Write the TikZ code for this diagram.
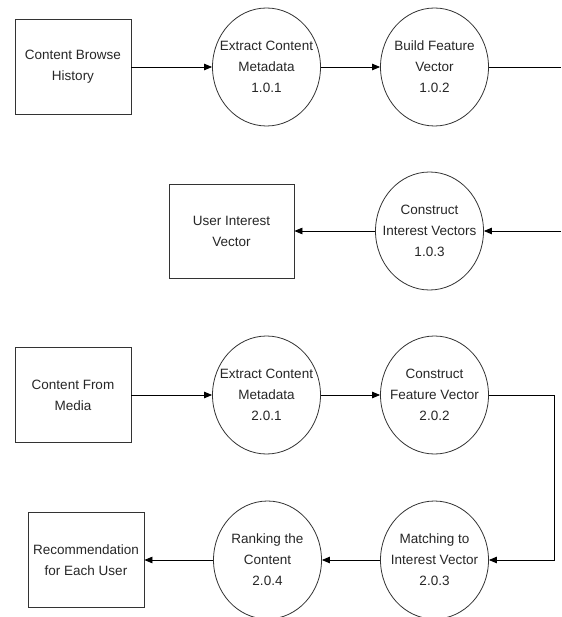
\documentclass[tikz,border=0pt]{standalone}
\usepackage{fontspec}
\setmainfont{Liberation Sans}
\usepackage{tikz}
\usetikzlibrary{arrows.meta}
\usetikzlibrary{shapes.geometric}

\begin{document}
\begin{tikzpicture}[x=1pt, y=1pt, >={Triangle[length=8pt,width=6.5pt]}, line width=0.8pt,
  every node/.style={font=\fontsize{13.5}{21}\selectfont, align=center, text=black!85},
  kreis/.style={ellipse, draw=black!80, minimum width=108pt, minimum height=118pt, inner xsep=-14pt, inner ysep=0pt},
  kasten/.style={rectangle, draw=black!80, minimum width=116pt, minimum height=95pt}]
\useasboundingbox (0,0) rectangle (561,-617);
% first part: browse history
\node [kasten,name=verlauf] at (73,-67) {Content Browse\\History};
\node [kreis,name=p101] at (266.5,-67) {Extract Content\\Metadata\\1.0.1};
\node [kreis,name=p102] at (434.5,-67) {Build Feature\\Vector\\1.0.2};
\coordinate (rand1) at (561,-67);
\node [kreis,name=p103] at (429.5,-231) {Construct\\Interest Vectors\\1.0.3};
\node [kasten,name=interesse,minimum width=125pt,minimum height=94pt] at (231.5,-231) {User Interest\\Vector};
\coordinate (rand2) at (561,-231);
% second part: media
\node [kasten,name=medien] at (73,-395) {Content From\\Media};
\node [kreis,name=p201] at (266.5,-395) {Extract Content\\Metadata\\2.0.1};
\node [kreis,name=p202] at (434.5,-395) {Construct\\Feature Vector\\2.0.2};
\node [kreis,name=p203] at (434.5,-560) {Matching to\\Interest Vector\\2.0.3};
\node [kreis,name=p204] at (267.5,-560) {Ranking the\\Content\\2.0.4};
\node [kasten,name=empfehlung] at (86,-560) {Recommendation\\for Each User};
\coordinate (knick) at (554.5,-560);

\draw [->](verlauf.east) -- (p101.west);
\draw [->](p101.east) -- (p102.west);
\draw [-](p102.east) -- (rand1);
\draw [->](rand2) -- (p103.east);
\draw [->](p103.west) -- (interesse.east);
\draw [->](medien.east) -- (p201.west);
\draw [->](p201.east) -- (p202.west);
\draw [->](p202.east) -| (knick) -- (p203.east);
\draw [->](p203.west) -- (p204.east);
\draw [->](p204.west) -- (empfehlung.east);
\end{tikzpicture}
\end{document}
